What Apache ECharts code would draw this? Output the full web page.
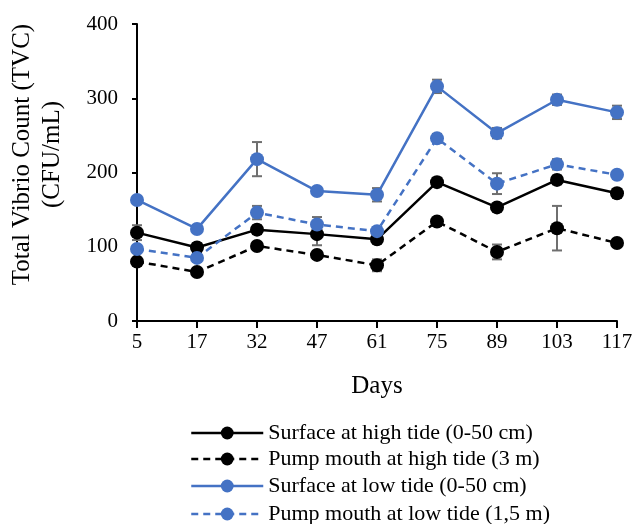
<!DOCTYPE html>
<html>
<head>
<meta charset="utf-8">
<script src="https://cdn.jsdelivr.net/npm/echarts@6/dist/echarts.min.js"></script>
<style>
html,body{margin:0;padding:0;background:#fff;}
#chart{width:638px;height:524px;}
</style>
</head>
<body>
<div id="chart"></div>
<script>
// Sampling days
const days = ['5', '17', '32', '47', '61', '75', '89', '103', '117'];

// Mean total Vibrio count (CFU/mL) per station
const surfaceHigh = [119, 99, 123, 117, 110, 187, 153, 190, 172];
const pumpHigh = [80, 66, 101, 89, 75, 134, 93, 125, 105];
const surfaceLow = [163, 124, 218, 175, 170, 316, 253, 298, 281];
const pumpLow = [97, 85, 146, 130, 121, 246, 185, 211, 197];

// Standard deviation per station
const surfaceHighErr = [10, 6, 6, 15, 5, 6, 5, 6, 6];
const pumpHighErr = [4, 4, 4, 5, 8, 5, 10, 30, 5];
const surfaceLowErr = [4, 5, 23, 4, 9, 9, 7, 7, 9];
const pumpLowErr = [5, 5, 9, 10, 5, 6, 14, 7, 5];

const seriesNames = [
  'Surface at high tide (0-50 cm)',
  'Pump mouth at high tide (3 m)',
  'Surface at low tide (0-50 cm)',
  'Pump mouth at low tide (1,5 m)'
];

const FONT = 'Liberation Serif';
const BLUE = '#4472C4';

function lineSeries(name, data, color, dashed) {
  return {
    name: name,
    type: 'line',
    data: data,
    symbol: 'circle',
    symbolSize: 14,
    z: 3,
    itemStyle: { color: color },
    lineStyle: { color: color, width: 2.5, type: dashed ? [7, 5] : 'solid' }
  };
}

function errorSeries(means, errs) {
  return {
    type: 'custom',
    z: 2,
    silent: true,
    data: means.map((m, i) => [i, m - errs[i], m + errs[i]]),
    renderItem: function (params, api) {
      const lo = api.coord([api.value(0), api.value(1)]);
      const hi = api.coord([api.value(0), api.value(2)]);
      const hw = 5;
      const style = { stroke: '#6f6f6f', lineWidth: 2 };
      return {
        type: 'group',
        children: [
          { type: 'line', shape: { x1: lo[0], y1: lo[1], x2: hi[0], y2: hi[1] }, style: style },
          { type: 'line', shape: { x1: lo[0] - hw, y1: lo[1], x2: lo[0] + hw, y2: lo[1] }, style: style },
          { type: 'line', shape: { x1: hi[0] - hw, y1: hi[1], x2: hi[0] + hw, y2: hi[1] }, style: style }
        ]
      };
    }
  };
}

// One legend block per row so the rows stack in a single column
const legendTops = [417, 443, 470, 498];
const legends = seriesNames.map((name, i) => ({
  orient: 'vertical',
  left: 185,
  top: legendTops[i],
  itemWidth: 72,
  itemHeight: 16,
  itemGap: 0,
  data: [name],
  lineStyle: { width: 2.5 },
  textStyle: { fontFamily: FONT, fontSize: 22, color: '#000' }
}));

const chart = echarts.init(document.getElementById('chart'));
chart.setOption({
  animation: false,
  textStyle: { fontFamily: FONT },
  grid: { left: 137, right: 21, top: 24, bottom: 203, containLabel: false, outerBoundsMode: 'none' },
  legend: legends,
  xAxis: {
    type: 'category',
    data: days,
    boundaryGap: false,
    name: 'Days',
    nameLocation: 'middle',
    nameGap: 53,
    nameTextStyle: { fontFamily: FONT, fontSize: 25, color: '#000' },
    axisLine: { lineStyle: { color: '#000', width: 2 } },
    axisTick: { show: true, alignWithLabel: true, length: 7, lineStyle: { color: '#000', width: 2 } },
    axisLabel: { fontFamily: FONT, fontSize: 21, color: '#000', margin: 11 },
    splitLine: { show: false }
  },
  yAxis: {
    type: 'value',
    min: 0,
    max: 400,
    interval: 100,
    name: 'Total Vibrio Count (TVC)\n(CFU/mL)',
    nameLocation: 'middle',
    nameGap: 70,
    nameRotate: 90,
    nameTextStyle: { fontFamily: FONT, fontSize: 25, color: '#000', lineHeight: 30, padding: [0, 0, 0, 36] },
    axisLine: { show: true, lineStyle: { color: '#000', width: 2 } },
    axisTick: { show: true, length: 5, lineStyle: { color: '#000', width: 2 } },
    axisLabel: { fontFamily: FONT, fontSize: 21, color: '#000', margin: 19 },
    splitLine: { show: false }
  },
  series: [
    errorSeries(surfaceHigh, surfaceHighErr),
    errorSeries(pumpHigh, pumpHighErr),
    errorSeries(surfaceLow, surfaceLowErr),
    errorSeries(pumpLow, pumpLowErr),
    lineSeries(seriesNames[0], surfaceHigh, '#000', false),
    lineSeries(seriesNames[1], pumpHigh, '#000', true),
    lineSeries(seriesNames[2], surfaceLow, BLUE, false),
    lineSeries(seriesNames[3], pumpLow, BLUE, true)
  ]
});
</script>
</body>
</html>
